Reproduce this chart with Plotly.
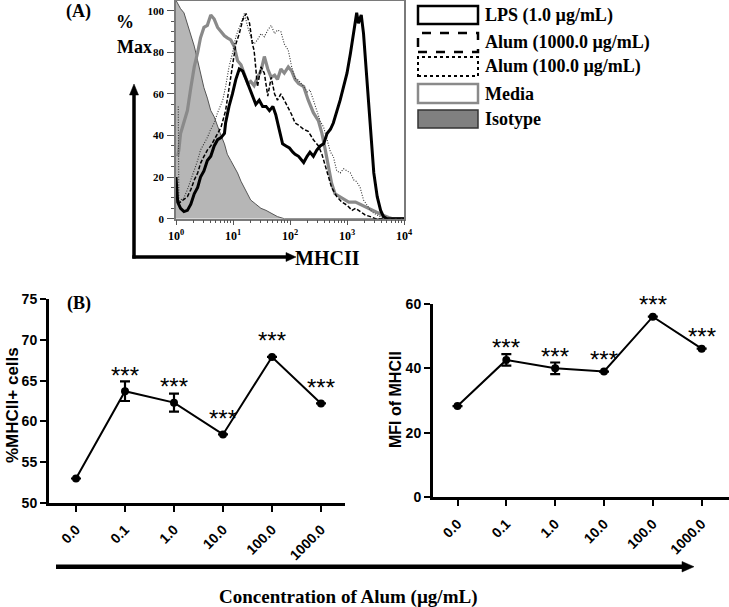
import numpy as np
import plotly.graph_objects as go

W, H = 729, 607

# ---------------- Panel A data: (log10 MHCII, % of max) ----------------
ISOTYPE = [(0.0, 105), (0.02, 104), (0.08, 101), (0.14, 99), (0.2, 94), (0.26, 89), (0.32, 83), (0.38, 76),
           (0.43, 70), (0.49, 63), (0.55, 58), (0.61, 52), (0.67, 49), (0.73, 44), (0.79, 40), (0.85, 36),
           (0.9, 31), (0.96, 28), (1.02, 25), (1.08, 22), (1.14, 18), (1.2, 15), (1.26, 12), (1.31, 9),
           (1.4, 7), (1.49, 5), (1.58, 4), (1.67, 2.6), (1.78, 1), (1.9, 0), (4.0, 0)]
MEDIA = [(0.03, 30), (0.05, 33), (0.08, 41), (0.14, 46), (0.2, 52), (0.26, 63), (0.32, 73), (0.38, 80),
         (0.43, 87), (0.49, 92), (0.55, 93), (0.61, 98), (0.67, 96), (0.73, 92), (0.79, 90), (0.85, 88),
         (0.9, 87), (0.96, 86), (1.02, 83), (1.08, 76), (1.14, 74), (1.2, 70), (1.26, 65), (1.31, 66),
         (1.37, 64), (1.43, 68), (1.49, 71), (1.55, 78), (1.61, 72), (1.67, 68), (1.73, 69), (1.78, 67),
         (1.84, 72), (1.9, 70), (1.97, 73), (2.03, 71), (2.09, 67), (2.15, 65), (2.24, 63.5), (2.32, 57),
         (2.41, 51), (2.5, 47), (2.56, 41), (2.62, 33), (2.68, 25), (2.73, 17), (2.79, 12), (2.91, 10),
         (3.03, 8), (3.15, 8), (3.26, 6.5), (3.38, 5), (3.5, 3), (3.62, 1.8), (3.73, 0.6), (3.8, 0), (4.0, 0)]
LPS = [(0.0, 20), (0.03, 8), (0.08, 5), (0.14, 3.4), (0.2, 4), (0.26, 7), (0.32, 12), (0.38, 15),
       (0.43, 20), (0.49, 23), (0.55, 28), (0.61, 30), (0.67, 35), (0.73, 38), (0.79, 39), (0.85, 41),
       (0.87, 46), (0.93, 54), (0.99, 60), (1.05, 67), (1.11, 72), (1.17, 71), (1.23, 67), (1.29, 63),
       (1.34, 59), (1.4, 55), (1.46, 57), (1.52, 54), (1.58, 54), (1.64, 52), (1.7, 54), (1.75, 50),
       (1.81, 43), (1.87, 36), (1.93, 35), (1.99, 34), (2.05, 32), (2.09, 31), (2.15, 30), (2.24, 27),
       (2.3, 30), (2.35, 32), (2.41, 30), (2.47, 33), (2.53, 35), (2.59, 36), (2.65, 41), (2.71, 43),
       (2.76, 46), (2.82, 51), (2.88, 57), (2.94, 63.5), (3.0, 70), (3.06, 79.5), (3.12, 89), (3.17, 99),
       (3.2, 94), (3.25, 98), (3.29, 89), (3.35, 65), (3.41, 41), (3.47, 22), (3.53, 10.6), (3.59, 4),
       (3.64, 1), (3.7, 0), (4.0, 0)]
ALUM_1000 = [(0.03, 7), (0.08, 8), (0.14, 9), (0.2, 10.6), (0.26, 14), (0.32, 18.6), (0.38, 22), (0.43, 26.6),
             (0.49, 30), (0.55, 33), (0.61, 35), (0.67, 38), (0.73, 41), (0.79, 44), (0.87, 52), (0.93, 63.5),
             (0.99, 75), (1.05, 84), (1.11, 89), (1.17, 95.5), (1.23, 98.7), (1.29, 94), (1.34, 84), (1.37, 81),
             (1.43, 63.5), (1.49, 73), (1.55, 70), (1.61, 59), (1.67, 68), (1.73, 60), (1.78, 57), (1.84, 60),
             (1.9, 57), (1.96, 54), (2.03, 50), (2.09, 46), (2.15, 45), (2.24, 43), (2.32, 42), (2.41, 38),
             (2.5, 35), (2.56, 31), (2.62, 25), (2.68, 20), (2.73, 15), (2.82, 10.6), (2.91, 8), (3.0, 6.5),
             (3.09, 4), (3.15, 5), (3.23, 3.4), (3.32, 1.8), (3.41, 1), (3.5, 0), (4.0, 0)]
ALUM_100 = [(0.04, 54), (0.05, 8), (0.08, 9), (0.14, 10), (0.2, 14), (0.26, 18.6), (0.32, 23), (0.38, 28),
            (0.43, 33), (0.49, 36), (0.55, 39), (0.61, 43), (0.67, 46), (0.73, 51), (0.82, 57), (0.87, 63.5),
            (0.93, 73), (0.99, 79.5), (1.05, 87.5), (1.11, 92), (1.17, 97), (1.2, 98.7), (1.26, 92), (1.31, 87.5),
            (1.37, 84), (1.43, 86), (1.49, 89), (1.55, 87.5), (1.61, 90.7), (1.67, 93), (1.73, 89), (1.78, 90.7),
            (1.84, 90), (1.9, 84), (1.97, 81), (2.03, 73), (2.09, 67.5), (2.15, 66.7), (2.24, 63.5), (2.3, 61),
            (2.35, 62), (2.41, 57), (2.47, 51), (2.53, 47), (2.59, 44), (2.65, 38), (2.71, 32), (2.76, 30),
            (2.82, 23), (2.88, 22), (2.94, 24), (3.0, 23), (3.06, 22), (3.12, 18.6), (3.17, 17.8), (3.23, 15),
            (3.29, 9), (3.35, 6.6), (3.41, 4), (3.47, 2.6), (3.56, 1.3), (3.65, 0), (4.0, 0)]

A_YTICKS = [0, 20, 40, 60, 80, 100]
A_XTICKS = [1, 10, 100, 1000, 10000]
A_XTICKTEXT = ["10<sup>0</sup>", "10<sup>1</sup>", "10<sup>2</sup>", "10<sup>3</sup>", "10<sup>4</sup>"]
LEGEND_LABELS = ["LPS (1.0 µg/mL)", "Alum (1000.0 µg/mL)", "Alum (100.0 µg/mL)", "Media", "Isotype"]

# ---------------- Panel B data ----------------
CONC = ["0.0", "0.1", "1.0", "10.0", "100.0", "1000.0"]
PCT_MHCII = [53.0, 63.7, 62.3, 58.4, 67.9, 62.2]
PCT_ERR = [0, 1.2, 1.1, 0, 0, 0]
MFI_MHCII = [28.3, 42.6, 40.0, 39.0, 56.0, 46.1]
MFI_ERR = [0, 1.8, 1.8, 0, 0, 0]
SIG = ["", "***", "***", "***", "***", "***"]
PCT_TICKS = [50, 55, 60, 65, 70, 75]
MFI_TICKS = [0, 20, 40, 60]


def X(px):
    return px / W


def Y(py):
    return 1 - py / H


SERIF = "Liberation Serif"
SANS = "Liberation Sans"

fig = go.Figure()


def hist_xy(series):
    d = np.array([p[0] for p in series])
    v = np.array([p[1] for p in series])
    return 10 ** d, v


xi, yi = hist_xy(ISOTYPE)
fig.add_trace(go.Scatter(x=xi, y=yi, mode="lines", fill="tozeroy", fillcolor="#b6b6b6",
                         line=dict(color="#555555", width=1), xaxis="x", yaxis="y"))
xm, ym = hist_xy(MEDIA)
fig.add_trace(go.Scatter(x=xm, y=ym, mode="lines", line=dict(color="#8a8a8a", width=3.2),
                         xaxis="x", yaxis="y"))
xd, yd = hist_xy(ALUM_100)
fig.add_trace(go.Scatter(x=xd, y=yd, mode="lines", line=dict(color="#333333", width=1.1, dash="1px,1.6px"),
                         xaxis="x", yaxis="y"))
xa, ya = hist_xy(ALUM_1000)
fig.add_trace(go.Scatter(x=xa, y=ya, mode="lines", line=dict(color="black", width=1.5, dash="4px,2px"),
                         xaxis="x", yaxis="y"))
xl, yl = hist_xy(LPS)
fig.add_trace(go.Scatter(x=xl, y=yl, mode="lines", line=dict(color="black", width=3),
                         xaxis="x", yaxis="y"))

fig.add_trace(go.Scatter(x=CONC, y=PCT_MHCII, mode="lines+markers",
                         line=dict(color="black", width=2), marker=dict(color="black", size=8),
                         error_y=dict(type="data", array=PCT_ERR, color="black", thickness=2.2, width=5),
                         xaxis="x2", yaxis="y2"))
fig.add_trace(go.Scatter(x=CONC, y=MFI_MHCII, mode="lines+markers",
                         line=dict(color="black", width=2), marker=dict(color="black", size=8),
                         error_y=dict(type="data", array=MFI_ERR, color="black", thickness=2.2, width=5),
                         xaxis="x3", yaxis="y3"))

annotations = []
for i, (v, s) in enumerate(zip(PCT_MHCII, SIG)):
    if s:
        annotations.append(dict(x=i, y=v, xref="x2", yref="y2", text=s, showarrow=False,
                                yshift=16, font=dict(family=SANS, size=24, color="black")))
for i, (v, s) in enumerate(zip(MFI_MHCII, SIG)):
    if s:
        annotations.append(dict(x=i, y=v, xref="x3", yref="y3", text=s, showarrow=False,
                                yshift=12, font=dict(family=SANS, size=24, color="black")))


def ann(px, py, text, size, family=SERIF, bold=True, angle=0, xanchor="center"):
    t = f"<b>{text}</b>" if bold else text
    annotations.append(dict(x=X(px), y=Y(py), xref="paper", yref="paper", text=t, showarrow=False,
                            textangle=angle, xanchor=xanchor, yanchor="middle",
                            font=dict(family=family, size=size, color="black")))


ann(78, 12, "(A)", 18)
ann(125, 22, "%", 18)
ann(134, 47, "Max", 18)
ann(327, 258, "MHCII", 20)
ann(79, 303, "(B)", 18)
ann(12, 405, "%MHCII+ cells", 17, family=SANS, angle=-90)
ann(396, 400, "MFI of MHCII", 16, family=SANS, angle=-90)
ann(348, 597, "Concentration of Alum (µg/mL)", 19)

shapes = []
leg_rows = [(6, 24), (33, 52), (57, 76), (84, 103), (110, 128)]
leg_styles = [
    dict(line=dict(color="black", width=2.5), fillcolor="white"),
    dict(line=dict(color="black", width=2.5, dash="dash"), fillcolor="white"),
    dict(line=dict(color="black", width=2, dash="dot"), fillcolor="white"),
    dict(line=dict(color="#8a8a8a", width=2.5), fillcolor="white"),
    dict(line=dict(color="#333333", width=1.5), fillcolor="#808080"),
]
for (t, b), st, lab in zip(leg_rows, leg_styles, LEGEND_LABELS):
    shapes.append(dict(type="rect", xref="paper", yref="paper", x0=X(418), x1=X(478), y0=Y(b), y1=Y(t), **st))
    ann(483, (t + b) / 2, lab, 18, xanchor="left")


def arrow_line(x0, y0, x1, y1, w):
    shapes.append(dict(type="line", xref="paper", yref="paper", x0=X(x0), y0=Y(y0), x1=X(x1), y1=Y(y1),
                       line=dict(color="black", width=w)))


def tri(pts):
    path = "M " + " L ".join(f"{X(a)},{Y(b)}" for a, b in pts) + " Z"
    shapes.append(dict(type="path", xref="paper", yref="paper", path=path, fillcolor="black",
                       line=dict(color="black", width=0.5)))


arrow_line(134, 258.5, 134, 94, 3.5)
tri([(129.5, 95), (138.5, 95), (134, 84)])
arrow_line(132.3, 257, 287, 257, 3.5)
tri([(286, 252.5), (286, 261.5), (296, 257)])
arrow_line(56, 566.7, 683, 566.7, 4.5)
tri([(682, 561.5), (682, 572), (694, 566.7)])

axis_common = dict(showgrid=False, zeroline=False, automargin=False)
bx_common = dict(showline=True, linecolor="black", linewidth=3, ticks="outside", ticklen=6, tickwidth=2.2,
                 tickcolor="black", tickangle=-45, ticklabelstandoff=4,
                 tickfont=dict(family=SANS, size=14, color="black", weight="bold"), type="category")
by_common = dict(showline=True, linecolor="black", linewidth=3, ticks="outside", ticklen=6, tickwidth=2.2,
                 tickcolor="black", tickfont=dict(family=SANS, size=14, color="black", weight="bold"))
fig.update_layout(
    template="none",
    width=W, height=H, margin=dict(l=0, r=0, t=0, b=0, pad=0),
    paper_bgcolor="white", plot_bgcolor="white", showlegend=False,
    xaxis=dict(type="log", range=[0, 4], domain=[X(176), X(404)], anchor="y",
               showline=True, linecolor="#7a7a7a", linewidth=1.5, mirror=True,
               ticks="outside", ticklen=5, tickcolor="#555", tickvals=A_XTICKS, ticktext=A_XTICKTEXT,
               tickfont=dict(family=SERIF, size=12, color="black", weight="bold"),
               minor=dict(ticks="outside", ticklen=3, tickcolor="#555", dtick="D1"), **axis_common),
    yaxis=dict(range=[0, 104.7], domain=[Y(218.7), Y(1)], anchor="x",
               showline=True, linecolor="#7a7a7a", linewidth=1.5, mirror=True,
               ticks="outside", ticklen=7, tickcolor="#555", tickvals=A_YTICKS, ticklabelstandoff=1,
               tickfont=dict(family=SERIF, size=11, color="black", weight="bold"),
               minor=dict(ticks="outside", ticklen=3, tickcolor="#555", dtick=5), **axis_common),
    xaxis2=dict(range=[-0.551, 5.49], domain=[X(49), X(345)], anchor="y2", **bx_common, **axis_common),
    yaxis2=dict(range=[50, 75], domain=[Y(503), Y(299)], anchor="x2", tickvals=PCT_TICKS,
                **by_common, **axis_common),
    xaxis3=dict(range=[-0.502, 5.56], domain=[X(433), X(729)], anchor="y3", **bx_common, **axis_common),
    yaxis3=dict(range=[0, 60], domain=[Y(497.3), Y(303.8)], anchor="x3", tickvals=MFI_TICKS,
                **by_common, **axis_common),
    annotations=annotations, shapes=shapes,
)

fig.write_html("out.html", config={"displayModeBar": False},
               post_script="document.body.style.margin='0';document.body.style.overflow='hidden';")
